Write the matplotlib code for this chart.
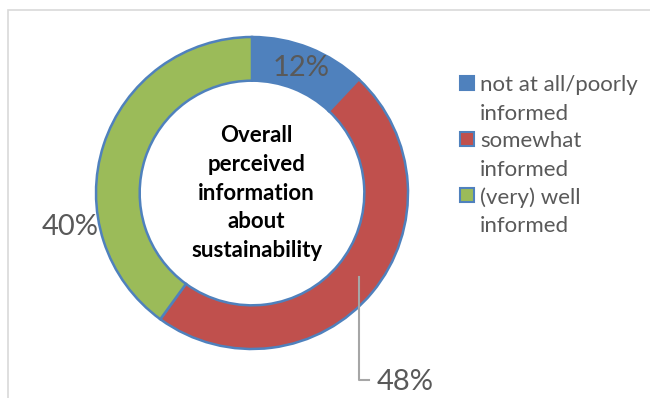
import matplotlib.pyplot as plt
from matplotlib.patches import Rectangle
import numpy as np

categories = ["not at all/poorly\ninformed", "somewhat\ninformed", "(very) well\ninformed"]
shares = [12, 48, 40]
colors = ["#4F81BD", "#C0504D", "#9BBB59"]
center_label = "Overall\nperceived\ninformation\nabout\nsustainability"

plt.rcParams['font.family'] = ['Lato', 'DejaVu Sans']

fig = plt.figure(figsize=(6.5, 3.98), dpi=100)
W, H = 650, 398

# light frame around the chart area
fig.add_artist(Rectangle((8 / W, -0.1), 1.2, 1 - 10 / H + 0.1, transform=fig.transFigure,
                         fill=False, edgecolor="#d9d9d9", linewidth=1.2))

cx, cy, r = 252, 193, 156
ax = fig.add_axes([(cx - r) / W, (H - cy - r) / H, 2 * r / W, 2 * r / H])
wedges, _ = ax.pie(shares, colors=colors, startangle=90, counterclock=False,
                   wedgeprops=dict(width=0.28, edgecolor="#4F81BD", linewidth=1.8))
ax.set_xlim(-1, 1)
ax.set_ylim(-1, 1)
ax.set_aspect("equal")
ax.axis("off")

ax.text(0.03, 0.0, center_label, ha="center", va="center", fontsize=16,
        fontweight="bold", color="black", linespacing=1.45)

# 12% inside the first slice, at its middle angle
mid = np.deg2rad(90 - shares[0] / 2 / 100 * 360)
ax.text(0.86 * np.cos(mid), 0.86 * np.sin(mid), f"{shares[0]}%", ha="center",
        va="center", fontsize=21, color="#595959")
# 40% just outside the left edge
ax.text(-0.98, -0.22, f"{shares[2]}%", ha="right", va="center", fontsize=21, color="#595959")
# 48% below with a leader line
ax.plot([0.686, 0.686, 0.75], [-0.54, -1.2, -1.2], color="#a6a6a6", linewidth=1.5,
        clip_on=False)
ax.text(0.8, -1.21, f"{shares[1]}%", ha="left", va="center", fontsize=21, color="#595959")

# legend with the handle next to the first line of each entry
for i, (lab, c) in enumerate(zip(categories, colors)):
    y = 83 + i * 56
    fig.add_artist(Rectangle((460 / W, 1 - (y + 7) / H), 14 / W, 14 / H,
                             transform=fig.transFigure, facecolor=c,
                             edgecolor="#4F81BD", linewidth=1.5))
    fig.text(480 / W, 1 - (y - 8) / H, lab, ha="left", va="top", fontsize=16,
             color="#595959", linespacing=1.55)

fig.savefig("out.png", dpi=100)
